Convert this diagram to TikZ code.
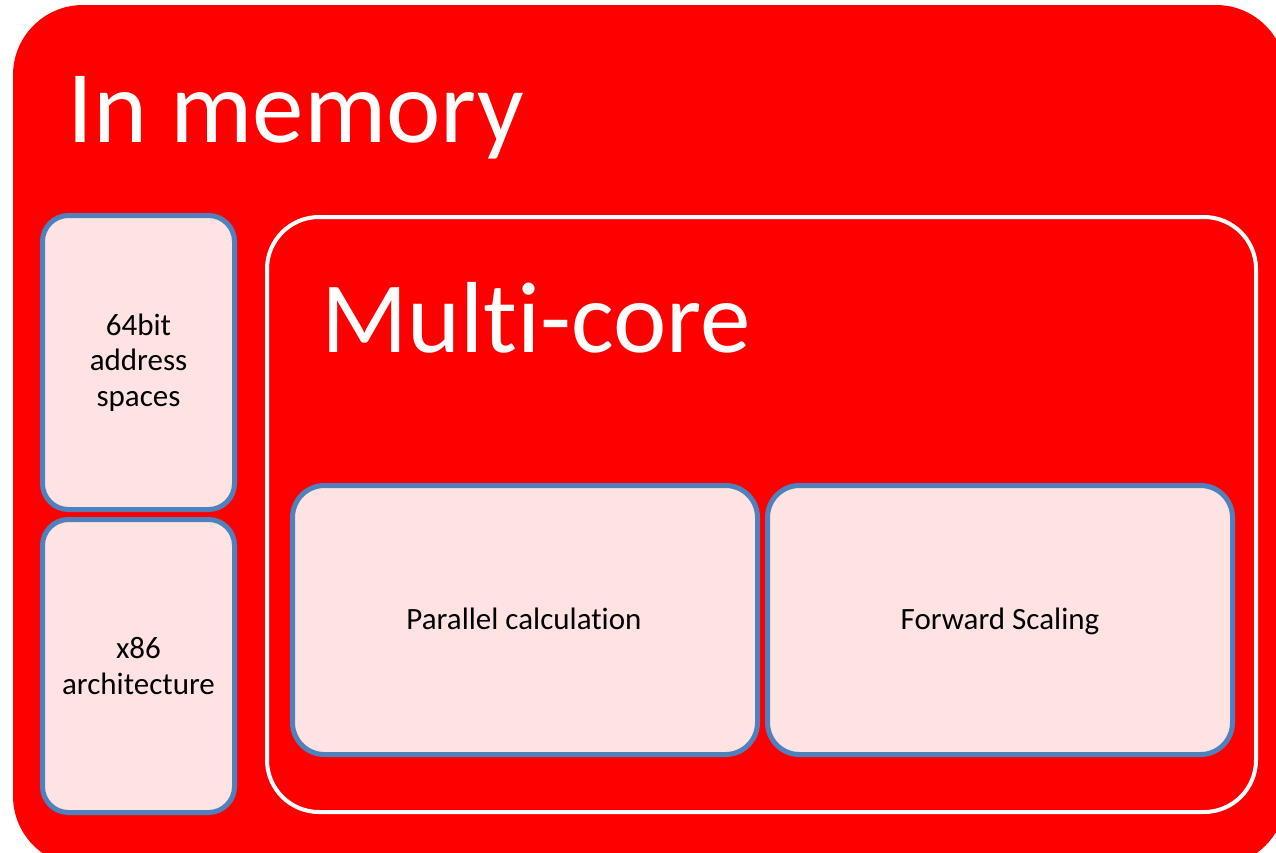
\documentclass[tikz,border=0pt]{standalone}
\usepackage{fontspec}
\setmainfont[Ligatures=NoCommon]{Carlito}
\definecolor{panelred}{HTML}{FF0000}
\definecolor{boxfill}{HTML}{FFE3E3}
\definecolor{boxline}{HTML}{4F81BD}
\tikzset{
  panel/.style={fill=panelred, draw=none, rounded corners=70pt},
  group/.style={draw=white, line width=4pt, rounded corners=52pt},
  item/.style={draw=boxline, fill=boxfill, line width=5pt},
  label/.style={align=center, font=\fontsize{31}{35.5}\selectfont,
    text=black, inner sep=0pt},
  heading/.style={text=white, anchor=base west, inner sep=0pt},
}
\begin{document}
\begin{tikzpicture}[x=1pt, y=-1pt]
  \useasboundingbox (0,0) rectangle (1276,852);
  \clip (0,0) rectangle (1276,852);
  % outer red panel, running past the right and bottom edges
  \fill[panel] (13,5) rectangle (1286,866);
  \node[heading, font=\fontsize{103}{120}\selectfont] (title) at (67,142) {In memory};

  % left column
  \draw[item, rounded corners=26pt] (42.5,215.5) rectangle (234.5,509.5);
  \node[label] (bits) at (138.5,362.5) {64bit\\address\\spaces};
  \draw[item, rounded corners=26pt] (42.5,519.5) rectangle (234.5,812.5);
  \node[label] (arch) at (138.5,666) {x86\\architecture};

  % multi-core group
  \draw[group] (267,217) rectangle (1256,812);
  \node[heading, font=\fontsize{101}{116}\selectfont] (multi) at (321,352) {Multi-core};
  \draw[item, rounded corners=32pt] (292.5,485.5) rectangle (757.5,754.5);
  \node[label, anchor=base] (par) at (524,629) {Parallel calculation};
  \draw[item, rounded corners=32pt] (767.5,485.5) rectangle (1232.5,754.5);
  \node[label, anchor=base] (fwd) at (1000,629) {Forward Scaling};
\end{tikzpicture}
\end{document}
